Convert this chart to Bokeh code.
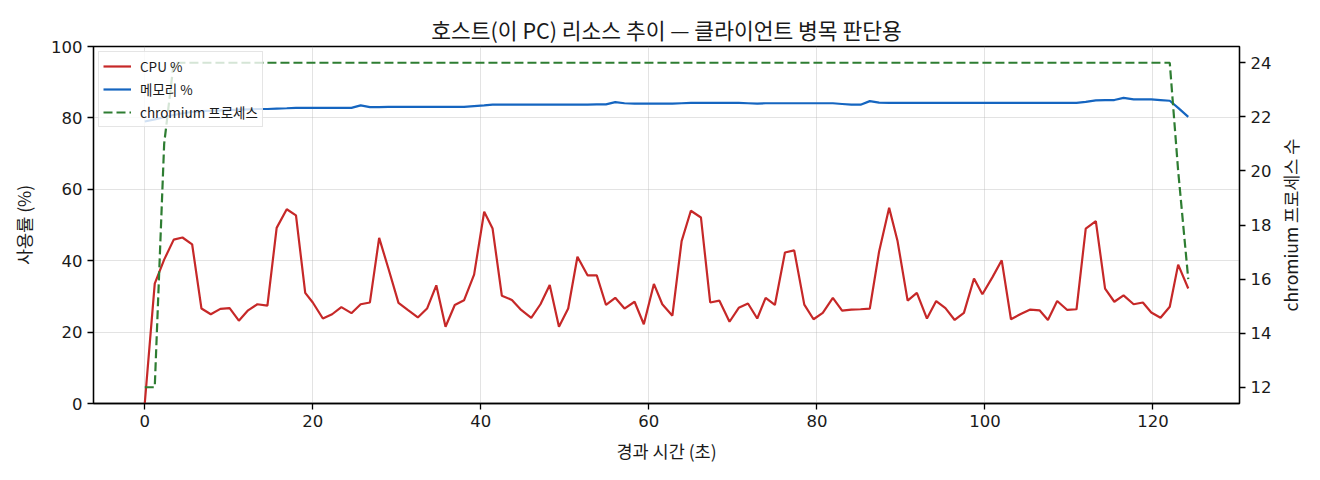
import math
from bokeh.plotting import figure
from bokeh.models import Range1d, LinearAxis, FixedTicker, Legend, LegendItem, Label
from bokeh.embed import file_html
from bokeh.resources import INLINE

# ---- data ----
elapsed_s = [0.0, 1.19, 2.31, 3.45, 4.49, 5.64, 6.75, 7.86, 9.0, 10.1,
             11.2, 12.3, 13.4, 14.6, 15.7, 16.9, 18.0, 19.1, 20.0, 21.2,
             22.3, 23.4, 24.6, 25.7, 26.8, 27.9, 29.0, 30.2, 31.3, 32.5,
             33.6, 34.7, 35.8, 36.9, 38.0, 39.2, 40.4, 41.4, 42.5, 43.7,
             44.8, 46.0, 47.1, 48.2, 49.3, 50.4, 51.5, 52.7, 53.8, 54.9,
             56.0, 57.1, 58.3, 59.4, 60.6, 61.6, 62.8, 63.9, 65.0, 66.2,
             67.3, 68.4, 69.6, 70.7, 71.8, 72.9, 73.9, 75.0, 76.2, 77.3,
             78.5, 79.6, 80.7, 81.9, 83.0, 84.1, 85.2, 86.3, 87.4, 88.6,
             89.6, 90.8, 91.9, 93.1, 94.2, 95.3, 96.4, 97.5, 98.7, 99.7,
             100.9, 102.0, 103.1, 104.2, 105.4, 106.5, 107.5, 108.6, 109.8, 110.9,
             112.0, 113.2, 114.3, 115.4, 116.5, 117.7, 118.8, 119.8, 120.9, 122.0,
             123.0, 124.2]

cpu_pct = [0.0, 33.6, 40.3, 45.9, 46.5, 44.6, 26.6, 25.0, 26.5, 26.7,
           23.2, 26.1, 27.8, 27.4, 49.2, 54.4, 52.7, 31.0, 28.3, 23.8,
           25.0, 27.0, 25.3, 27.8, 28.3, 46.4, 37.8, 28.2, 26.2, 24.1,
           26.6, 33.1, 21.5, 27.6, 28.9, 36.1, 53.7, 49.0, 30.2, 29.0,
           26.2, 24.0, 27.8, 33.2, 21.5, 26.6, 41.1, 35.9, 35.9, 27.6,
           29.6, 26.6, 28.5, 22.2, 33.5, 27.8, 24.6, 45.5, 54.0, 52.1,
           28.3, 28.8, 22.9, 26.8, 28.0, 23.8, 29.6, 27.6, 42.3, 42.9,
           27.7, 23.6, 25.4, 29.6, 26.0, 26.3, 26.4, 26.6, 42.5, 54.8,
           45.5, 28.8, 31.0, 23.8, 28.7, 26.7, 23.4, 25.4, 35.0, 30.6,
           35.4, 40.1, 23.6, 25.0, 26.3, 26.1, 23.4, 28.7, 26.2, 26.4,
           49.0, 51.1, 32.2, 28.5, 30.3, 27.8, 28.3, 25.5, 24.0, 27.1,
           38.9, 32.2]

mem_pct = [79.0, 79.6, 80.2, 80.8, 81.3, 81.7, 81.9, 82.0, 82.1, 82.2,
           82.3, 82.4, 82.5, 82.5, 82.6, 82.7, 82.8, 82.8, 82.8, 82.8,
           82.8, 82.8, 82.8, 83.5, 83.0, 83.0, 83.1, 83.1, 83.1, 83.1,
           83.1, 83.1, 83.1, 83.1, 83.1, 83.3, 83.5, 83.7, 83.7, 83.7,
           83.7, 83.7, 83.7, 83.7, 83.7, 83.7, 83.7, 83.7, 83.8, 83.8,
           84.4, 84.1, 84.0, 84.0, 84.0, 84.0, 84.0, 84.1, 84.2, 84.2,
           84.2, 84.2, 84.2, 84.2, 84.1, 84.0, 84.1, 84.1, 84.1, 84.1,
           84.1, 84.1, 84.1, 84.1, 83.9, 83.7, 83.7, 84.7, 84.3, 84.2,
           84.2, 84.2, 84.2, 84.2, 84.2, 84.2, 84.2, 84.2, 84.2, 84.2,
           84.2, 84.2, 84.2, 84.2, 84.2, 84.2, 84.2, 84.2, 84.2, 84.2,
           84.5, 84.9, 85.0, 85.0, 85.6, 85.2, 85.2, 85.2, 85.0, 84.8,
           82.8, 80.3]

chromium_count = [12, 12, 21, 24, 24, 24, 24, 24, 24, 24,
                  24, 24, 24, 24, 24, 24, 24, 24, 24, 24,
                  24, 24, 24, 24, 24, 24, 24, 24, 24, 24,
                  24, 24, 24, 24, 24, 24, 24, 24, 24, 24,
                  24, 24, 24, 24, 24, 24, 24, 24, 24, 24,
                  24, 24, 24, 24, 24, 24, 24, 24, 24, 24,
                  24, 24, 24, 24, 24, 24, 24, 24, 24, 24,
                  24, 24, 24, 24, 24, 24, 24, 24, 24, 24,
                  24, 24, 24, 24, 24, 24, 24, 24, 24, 24,
                  24, 24, 24, 24, 24, 24, 24, 24, 24, 24,
                  24, 24, 24, 24, 24, 24, 24, 24, 24, 24,
                  20, 16]

x_ticks = [0, 20, 40, 60, 80, 100, 120]
pct_ticks = [0, 20, 40, 60, 80, 100]
chrom_ticks = [12, 14, 16, 18, 20, 22, 24]

title_text = "호스트(이 PC) 리소스 추이 — 클라이언트 병목 판단용"
x_label = "경과 시간 (초)"
y_label = "사용률 (%)"
y2_label = "chromium 프로세스 수"
legend_labels = ["CPU %", "메모리 %", "chromium 프로세스"]

# ---- styling / layout ----
KFONT = "Noto Sans CJK KR"
TFONT = "DejaVu Sans"
C_CPU = "#c62828"
C_MEM = "#1565c0"
C_CHR = "#2e7d32"
TXT = "#1a1a1a"

W, H = 1320, 480
BL, BR, BT, BB = 93, 81, 46, 77
FRAME_W = W - BL - BR
FRAME_H = H - BT - BB

p = figure(width=W, height=H,
           x_range=Range1d(-6.1, 130.3), y_range=Range1d(0, 100),
           output_backend="svg", toolbar_location=None,
           min_border_left=BL, min_border_right=BR,
           min_border_top=BT, min_border_bottom=BB)
p.extra_y_ranges = {"chrom": Range1d(11.4, 24.6)}

p.title.text = title_text
p.title.align = "center"
p.title.text_font = KFONT
p.title.text_font_size = "21.5px"
p.title.text_font_style = "normal"
p.title.text_color = TXT
p.title.standoff = 4

p.outline_line_color = "black"
p.outline_line_width = 1.3
p.background_fill_color = "white"
p.border_fill_color = "white"

r_cpu = p.line(elapsed_s, cpu_pct, line_color=C_CPU, line_width=2.2)
r_mem = p.line(elapsed_s, mem_pct, line_color=C_MEM, line_width=2.2)
r_chr = p.line(elapsed_s, chromium_count, y_range_name="chrom",
               line_color=C_CHR, line_width=2.2, line_dash="9 4", level="overlay")

right_axis = LinearAxis(y_range_name="chrom")
p.add_layout(right_axis, "right")

p.xaxis.ticker = FixedTicker(ticks=x_ticks)
p.yaxis[0].ticker = FixedTicker(ticks=pct_ticks)
right_axis.ticker = FixedTicker(ticks=chrom_ticks)

for ax in [p.xaxis[0], p.yaxis[0], right_axis]:
    ax.axis_line_color = "black"
    ax.axis_line_width = 1.3
    ax.major_tick_line_color = "black"
    ax.major_tick_line_width = 1.3
    ax.major_tick_out = 6
    ax.major_tick_in = 0
    ax.minor_tick_line_color = None
    ax.major_label_text_font = TFONT
    ax.major_label_text_font_size = "16.5px"
    ax.major_label_text_color = TXT
    ax.major_label_standoff = 5
    ax.axis_label_text_font = KFONT
    ax.axis_label_text_font_size = "17.5px"
    ax.axis_label_text_font_style = "normal"
    ax.axis_label_text_color = TXT

p.xaxis.axis_label = x_label
p.xaxis.axis_label_standoff = 8
p.yaxis[0].axis_label = y_label
p.yaxis[0].axis_label_standoff = 12

# right-hand axis title, reading bottom-to-top like the reference
y2_title = Label(x=16, y=FRAME_H / 2, x_units="screen", y_units="screen",
                 text=y2_label, angle=math.pi / 2, text_align="center",
                 text_baseline="middle", text_font=KFONT, text_font_size="17.5px",
                 text_color=TXT)
p.add_layout(y2_title, "right")

p.xgrid.ticker = FixedTicker(ticks=x_ticks)
p.ygrid.ticker = FixedTicker(ticks=pct_ticks)
for g in [p.xgrid[0], p.ygrid[0]]:
    g.grid_line_color = "#b0b0b0"
    g.grid_line_alpha = 0.35
    g.grid_line_width = 1

legend = Legend(items=[LegendItem(label=legend_labels[0], renderers=[r_cpu]),
                       LegendItem(label=legend_labels[1], renderers=[r_mem]),
                       LegendItem(label=legend_labels[2], renderers=[r_chr])],
                location="top_left")
legend.margin = 5
legend.padding = 4
legend.spacing = 3
legend.glyph_width = 28
legend.glyph_height = 20
legend.label_height = 20
legend.label_standoff = 9
legend.label_text_font = KFONT
legend.label_text_font_size = "13.5px"
legend.label_text_color = TXT
legend.border_line_color = "#cccccc"
legend.border_line_width = 1
legend.background_fill_color = "white"
legend.background_fill_alpha = 0.8
p.add_layout(legend)

open("out.html", "w").write(file_html(p, INLINE))
